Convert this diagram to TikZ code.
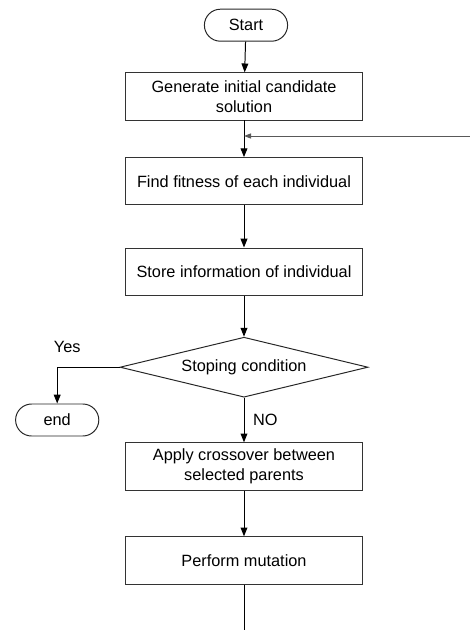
\documentclass[tikz,border=0pt]{standalone}
\usepackage{fontspec}
\setmainfont{Liberation Sans}
\usepackage{tikz}
\usetikzlibrary{positioning,calc,arrows.meta,shapes.geometric}

\begin{document}
\begin{tikzpicture}[
	box/.style={rectangle, draw=black!80, line width=0.7pt, minimum width=5.93cm, minimum height=1.18cm, align=center, font=\fontsize{11.6}{14}\selectfont},
	term/.style={rectangle, rounded corners=0.4cm, draw=black!85, line width=0.7pt, minimum width=2.08cm, minimum height=0.8cm, font=\fontsize{11.6}{14}\selectfont},
	decision/.style={diamond, draw=black!85, line width=0.7pt, minimum width=6.2cm, minimum height=1.5cm, aspect=4, inner sep=0pt, font=\fontsize{11.6}{14}\selectfont},
	arrow/.style={-{Triangle[length=0.22cm,width=0.17cm]}, line width=0.7pt},
	labeltext/.style={font=\fontsize{11.6}{14}\selectfont}
	]
	\useasboundingbox (0,0) rectangle (11.75,-15.75);
	
	% ===== START =====
	\node[term] (start) at (6.15,-0.63) {Start};
	
	% ===== MAIN COLUMN =====
	\node[box] (init)   at (6.1,-2.41)  {Generate initial candidate\\solution};
	\node[box] (fit)    at (6.1,-4.53)  {Find fitness of each individual};
	\node[box] (store)  at (6.1,-6.79)  {Store information of individual};
	\node[decision] (stop) at (6.1,-9.18) {Stoping condition};
	\node[box] (cross)  at (6.1,-11.66) {Apply crossover between\\selected parents};
	\node[box] (mutate) at (6.1,-14.01) {Perform mutation};
	
	% ===== END =====
	\node[term] (end) at (1.43,-10.5) {end};
	
	% ===== LOOP ENDS =====
	\coordinate (loopin) at (11.75,-3.4);
	\coordinate (loopout) at (6.1,-15.75);
	\coordinate (join) at (init.south |- loopin);
	
	% ===== ARROWS =====
	\draw[arrow] (start) -- (init);
	\draw[arrow] (init) -- (fit);
	\draw[arrow] (fit) -- (store);
	\draw[arrow] (store) -- (stop);
	\draw[arrow] (stop) -- node[labeltext, right=0.1cm] {NO} (cross);
	\draw[arrow] (cross) -- (mutate);
	\draw[arrow] (stop.west) -| (end.north);
	\draw[line width=0.7pt] (mutate) -- (loopout);
	\draw[-{Triangle[length=0.18cm,width=0.13cm]}, line width=0.7pt, black!65] (loopin) -- (join);
	
	% ===== LABELS =====
	\node[labeltext] (yes) at (1.68,-8.68) {Yes};
\end{tikzpicture}
\end{document}
